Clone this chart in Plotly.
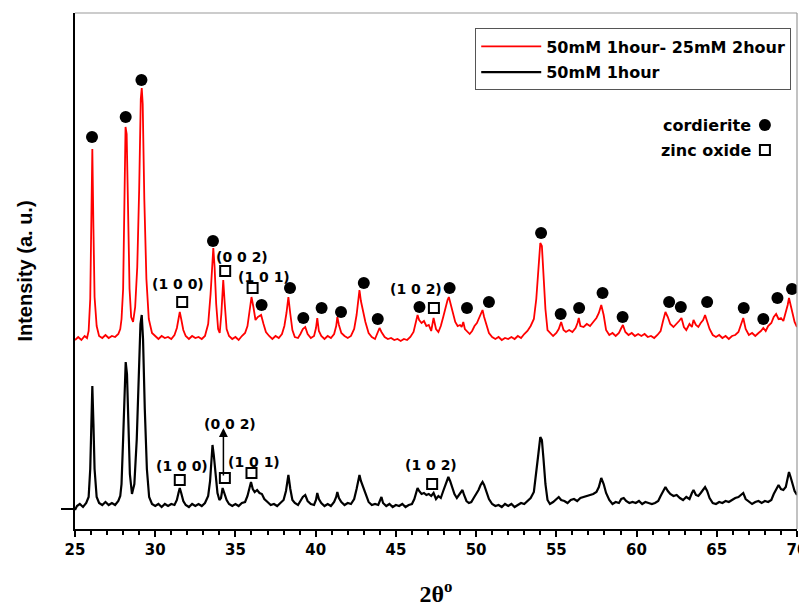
import plotly.graph_objects as go

# ---------------- data ----------------
# 2-theta (degrees) and intensity (a.u.) for the two XRD patterns
red_2theta = [25.0, 25.2, 25.4, 25.6, 25.75, 25.85, 25.95, 26.02, 26.08, 26.15, 26.22, 26.35, 26.5, 26.7,
              26.9, 27.1, 27.3, 27.5, 27.7, 27.82, 27.9, 28.0, 28.08, 28.15, 28.22, 28.3, 28.4, 28.5,
              28.62, 28.75, 28.88, 29.0, 29.1, 29.16, 29.22, 29.32, 29.45, 29.6, 29.8, 30.0, 30.2,
              30.4, 30.6, 30.8, 31.0, 31.2, 31.35, 31.45, 31.53, 31.62, 31.75, 31.9, 32.1, 32.3, 32.5,
              32.7, 32.9, 33.1, 33.3, 33.45, 33.55, 33.62, 33.7, 33.8, 33.92, 34.02, 34.12, 34.24, 34.33,
              34.45, 34.6, 34.8, 35.0, 35.2, 35.4, 35.6, 35.75, 35.88, 36.0, 36.12, 36.25, 36.4, 36.6,
              36.75, 36.9, 37.1, 37.3, 37.5, 37.7, 37.9, 38.05, 38.18, 38.3, 38.42, 38.55, 38.7, 38.9,
              39.05, 39.2, 39.35, 39.5, 39.7, 39.9, 40.02, 40.1, 40.2, 40.35, 40.55, 40.75, 40.95, 41.15,
              41.28, 41.35, 41.45, 41.6, 41.8, 42.0, 42.2, 42.4, 42.55, 42.65, 42.73, 42.82, 42.95,
              43.1, 43.3, 43.5, 43.7, 43.88, 43.98, 44.1, 44.3, 44.5, 44.7, 44.9, 45.1, 45.3, 45.5,
              45.7, 45.9, 46.1, 46.25, 46.35, 46.45, 46.6, 46.75, 46.9, 47.05, 47.2, 47.35, 47.5, 47.65,
              47.8, 47.95, 48.1, 48.22, 48.3, 48.4, 48.55, 48.7, 48.85, 49.0, 49.1, 49.2, 49.3, 49.45,
              49.6, 49.75, 49.9, 50.05, 50.2, 50.32, 50.4, 50.5, 50.65, 50.8, 51.0, 51.2, 51.4, 51.6,
              51.8, 52.0, 52.2, 52.4, 52.6, 52.8, 53.0, 53.2, 53.4, 53.6, 53.75, 53.88, 54.0, 54.1,
              54.2, 54.32, 54.45, 54.6, 54.8, 55.0, 55.15, 55.3, 55.45, 55.6, 55.8, 56.0, 56.2, 56.32,
              56.4, 56.5, 56.7, 56.9, 57.1, 57.3, 57.5, 57.65, 57.8, 57.95, 58.1, 58.3, 58.5, 58.7,
              58.9, 59.05, 59.15, 59.3, 59.5, 59.7, 59.9, 60.1, 60.3, 60.5, 60.7, 60.9, 61.1, 61.3,
              61.5, 61.65, 61.8, 61.95, 62.1, 62.3, 62.5, 62.65, 62.8, 62.95, 63.1, 63.3, 63.45, 63.55,
              63.7, 63.85, 64.0, 64.15, 64.27, 64.4, 64.55, 64.75, 64.95, 65.15, 65.35, 65.55, 65.75,
              65.95, 66.15, 66.35, 66.5, 66.65, 66.8, 67.0, 67.2, 67.4, 67.6, 67.75, 67.9, 68.05, 68.2,
              68.4, 68.55, 68.7, 68.85, 69.0, 69.15, 69.3, 69.42, 69.5, 69.6, 69.72, 69.85, 70.0]
red_intensity = [189, 192, 189, 193, 191, 198, 230, 300, 380, 300, 232, 203, 193, 191,
                 194, 191, 193, 192, 195, 200, 210, 240, 330, 402, 395, 320, 240, 212,
                 207, 222, 262, 340, 430, 441, 425, 330, 250, 210, 196, 193, 190,
                 193, 191, 192, 190, 194, 201, 210, 217, 210, 199, 193, 190, 193, 191,
                 192, 190, 193, 205, 235, 270, 281, 262, 225, 200, 196, 215, 249, 226,
                 200, 193, 190, 192, 189, 193, 196, 203, 218, 232, 222, 209, 212, 214,
                 205, 197, 193, 190, 193, 191, 195, 203, 216, 232, 215, 199, 192, 191,
                 195, 200, 202, 195, 191, 193, 201, 211, 198, 193, 190, 193, 191, 195,
                 203, 212, 204, 196, 193, 191, 193, 200, 214, 230, 239, 228, 217,
                 207, 196, 192, 190, 196, 201, 197, 192, 190, 191, 189, 190, 188, 190,
                 189, 192, 197, 206, 214, 209, 206, 208, 203, 204, 198, 211, 200, 197,
                 203, 212, 222, 229, 232, 226, 216, 207, 203, 204, 202, 207, 200, 197,
                 195, 198, 203, 206, 211, 216, 219, 212, 204, 196, 192, 190, 192, 189,
                 191, 190, 192, 190, 193, 191, 195, 198, 203, 210, 230, 265, 286, 283,
                 255, 220, 199, 196, 193, 196, 200, 207, 199, 197, 199, 197, 201, 206,
                 211, 203, 202, 205, 203, 207, 211, 216, 224, 214, 199, 194, 196, 193,
                 196, 201, 204, 197, 194, 196, 193, 195, 193, 195, 192, 193, 191, 194,
                 198, 208, 217, 212, 205, 202, 205, 208, 211, 202, 199, 205, 202, 209,
                 204, 202, 206, 209, 214, 208, 200, 194, 192, 194, 191, 193, 190,
                 193, 194, 197, 203, 211, 200, 194, 196, 193, 196, 198, 201, 198, 203,
                 206, 212, 215, 210, 211, 208, 216, 224, 231, 224, 214, 207, 202]

black_2theta = [25.0, 25.12, 25.3, 25.5, 25.7, 25.85, 25.95, 26.02, 26.08, 26.15, 26.22, 26.35, 26.5, 26.7,
                26.9, 27.1, 27.3, 27.5, 27.7, 27.82, 27.9, 28.0, 28.08, 28.16, 28.24, 28.32, 28.42, 28.55,
                28.7, 28.85, 28.98, 29.08, 29.16, 29.24, 29.35, 29.48, 29.62, 29.8, 30.0, 30.2, 30.4,
                30.6, 30.8, 31.0, 31.2, 31.35, 31.45, 31.53, 31.62, 31.75, 31.9, 32.1, 32.3, 32.5, 32.7,
                32.9, 33.1, 33.3, 33.42, 33.52, 33.57, 33.65, 33.75, 33.88, 34.0, 34.1, 34.2, 34.3, 34.45,
                34.6, 34.8, 35.0, 35.2, 35.4, 35.6, 35.75, 35.88, 35.97, 36.08, 36.2, 36.35, 36.5, 36.65,
                36.8, 37.0, 37.2, 37.4, 37.6, 37.8, 38.0, 38.15, 38.3, 38.42, 38.55, 38.7, 38.9, 39.05,
                39.2, 39.35, 39.5, 39.7, 39.9, 40.02, 40.1, 40.2, 40.35, 40.55, 40.75, 40.95, 41.15, 41.28,
                41.35, 41.45, 41.6, 41.8, 42.0, 42.2, 42.4, 42.55, 42.65, 42.73, 42.82, 42.95, 43.1, 43.3,
                43.5, 43.7, 43.9, 44.02, 44.1, 44.2, 44.4, 44.6, 44.8, 45.0, 45.2, 45.4, 45.6, 45.8,
                46.0, 46.15, 46.25, 46.35, 46.45, 46.6, 46.75, 46.9, 47.05, 47.2, 47.35, 47.5, 47.65, 47.8,
                47.95, 48.1, 48.2, 48.27, 48.38, 48.5, 48.65, 48.8, 48.95, 49.05, 49.15, 49.25, 49.4, 49.55,
                49.7, 49.85, 50.0, 50.15, 50.28, 50.4, 50.5, 50.65, 50.8, 51.0, 51.2, 51.4, 51.6, 51.8,
                52.0, 52.2, 52.4, 52.6, 52.8, 53.0, 53.2, 53.4, 53.6, 53.75, 53.88, 54.0, 54.1, 54.2,
                54.32, 54.45, 54.6, 54.8, 55.0, 55.15, 55.3, 55.5, 55.7, 55.9, 56.1, 56.3, 56.5, 56.7,
                56.9, 57.1, 57.3, 57.5, 57.65, 57.8, 57.95, 58.1, 58.3, 58.5, 58.7, 58.9, 59.05, 59.2,
                59.35, 59.55, 59.75, 59.95, 60.15, 60.35, 60.55, 60.75, 60.95, 61.15, 61.35, 61.5, 61.65,
                61.8, 61.95, 62.1, 62.3, 62.5, 62.7, 62.9, 63.1, 63.3, 63.45, 63.55, 63.7, 63.85, 64.0,
                64.15, 64.27, 64.4, 64.55, 64.75, 64.95, 65.15, 65.35, 65.55, 65.75, 65.95, 66.15, 66.35,
                66.5, 66.65, 66.8, 67.0, 67.2, 67.4, 67.6, 67.8, 68.0, 68.2, 68.4, 68.55, 68.7, 68.85,
                69.0, 69.15, 69.3, 69.42, 69.5, 69.6, 69.72, 69.85, 70.0]
black_intensity = [19, 23, 25, 22, 26, 32, 60, 110, 143, 105, 60, 32, 26, 24,
                   27, 24, 26, 24, 28, 33, 45, 90, 140, 167, 155, 100, 55, 35,
                   45, 90, 160, 205, 214, 190, 120, 60, 32, 25, 23, 25, 22,
                   25, 23, 25, 24, 29, 36, 41, 36, 28, 24, 22, 25, 23, 25,
                   23, 26, 33, 48, 72, 84, 74, 55, 36, 29, 31, 41, 36, 29,
                   25, 23, 25, 23, 26, 27, 33, 42, 47, 40, 37, 39, 36, 35,
                   30, 27, 24, 25, 23, 26, 29, 38, 54, 40, 29, 26, 24, 28,
                   32, 34, 28, 25, 24, 29, 36, 30, 26, 23, 25, 23, 27, 32,
                   37, 31, 27, 24, 26, 25, 30, 40, 48, 54, 48, 42, 35, 27,
                   24, 25, 24, 29, 32, 26, 23, 25, 22, 24, 23, 25, 22, 24,
                   25, 30, 37, 41, 38, 35, 36, 34, 35, 33, 36, 30, 33, 31,
                   38, 45, 50, 52, 48, 42, 35, 31, 34, 36, 39, 34, 28, 26,
                   27, 31, 35, 39, 44, 47, 44, 37, 30, 25, 23, 24, 22, 25,
                   23, 25, 22, 24, 26, 25, 28, 31, 37, 55, 75, 92, 89, 70,
                   45, 29, 25, 27, 30, 32, 29, 28, 26, 29, 30, 28, 31, 32,
                   33, 34, 35, 37, 42, 51, 45, 36, 29, 25, 27, 26, 30, 31,
                   28, 26, 27, 26, 28, 25, 27, 26, 25, 26, 28, 33, 38,
                   42, 38, 35, 33, 34, 31, 29, 32, 30, 36, 39, 34, 33, 36,
                   39, 42, 38, 31, 26, 25, 27, 26, 28, 27, 29, 31, 32,
                   34, 36, 30, 27, 25, 27, 28, 26, 28, 27, 29, 35, 40, 44,
                   40, 39, 42, 50, 57, 52, 46, 38, 34]

# phase markers: cordierite (filled circle) and zinc oxide (open square)
cord_2theta = [26.06, 28.16, 29.14, 33.6, 36.63, 38.4, 39.23, 40.37, 41.58, 43.0, 43.87, 46.47, 48.35,
               49.43, 50.8, 54.05, 55.27, 56.42, 57.88, 59.13, 62.03, 62.76, 64.4, 66.68, 67.9, 68.78, 69.69]
cord_height = [392, 412, 449, 288, 224, 241, 211, 221, 217, 246, 210, 222, 241,
               221, 227, 296, 215, 221, 236, 212, 227, 222, 227, 221, 210, 231, 240]

zno_red_2theta = [31.68, 34.36, 36.07, 47.37]
zno_red_height = [227, 258, 241, 221]
zno_black_2theta = [31.53, 34.34, 36.0, 47.26]
zno_black_height = [49, 51, 56, 45]

hkl_labels = ["(1 0 0)", "(0 0 2)", "(1 0 1)", "(1 0 2)"]
hkl_red_x = [31.44, 35.43, 36.78, 46.28]
hkl_red_y = [245, 272, 252, 240]
hkl_black_x = [31.65, 34.64, 36.16, 47.17]
hkl_black_y = [63, 105, 67, 64]

key_labels = ["cordierite", "zinc oxide"]
key_x = [68.0, 68.0]
key_y = [404, 379]

series_names = ["50mM 1hour- 25mM 2hour", "50mM 1hour"]

x_ticks = [25, 30, 35, 40, 45, 50, 55, 60, 65, 70]

# ---------------- figure ----------------
BOLD = dict(family="DejaVu Sans", weight="bold", color="black")

fig = go.Figure()
fig.add_trace(go.Scatter(x=red_2theta, y=red_intensity, mode="lines", name=series_names[0],
                         line=dict(color="#ff0000", width=1.8), legendgroup="a"))
fig.add_trace(go.Scatter(x=black_2theta, y=black_intensity, mode="lines", name=series_names[1],
                         line=dict(color="black", width=2.2), legendgroup="b"))

circle_marker = dict(symbol="circle", size=12, color="black")
square_marker = dict(symbol="square-open", size=10, color="black", line=dict(width=2, color="black"))

fig.add_trace(go.Scatter(x=cord_2theta, y=cord_height, mode="markers", marker=circle_marker,
                         showlegend=False, hoverinfo="skip"))
fig.add_trace(go.Scatter(x=zno_red_2theta, y=zno_red_height, mode="markers", marker=square_marker,
                         showlegend=False, hoverinfo="skip"))
fig.add_trace(go.Scatter(x=zno_black_2theta, y=zno_black_height, mode="markers", marker=square_marker,
                         showlegend=False, hoverinfo="skip"))
# phase key
fig.add_trace(go.Scatter(x=key_x[:1], y=key_y[:1], mode="markers", marker=circle_marker,
                         showlegend=False, hoverinfo="skip"))
fig.add_trace(go.Scatter(x=key_x[1:], y=key_y[1:], mode="markers", marker=square_marker,
                         showlegend=False, hoverinfo="skip"))
for lab, kx, ky in zip(key_labels, key_x, key_y):
    fig.add_annotation(x=kx, y=ky, text=lab, showarrow=False, xanchor="right", xshift=-12,
                       font=dict(BOLD, size=16))

for lab, hx, hy in zip(hkl_labels, hkl_red_x, hkl_red_y):
    fig.add_annotation(x=hx, y=hy, text=lab, showarrow=False, font=dict(BOLD, size=14))
for lab, hx, hy in zip(hkl_labels, hkl_black_x, hkl_black_y):
    fig.add_annotation(x=hx, y=hy, text=lab, showarrow=False, font=dict(BOLD, size=14))

# arrow pointing to the (0 0 2) label of the lower pattern
fig.add_annotation(x=zno_black_2theta[1] - 0.09, y=hkl_black_y[1] - 4, ax=zno_black_2theta[1] - 0.09,
                   ay=zno_black_height[1] + 1, axref="x", ayref="y", xref="x", yref="y", text="",
                   showarrow=True, arrowhead=2, arrowsize=1.2, arrowwidth=1.5, arrowcolor="black")

# light frame on top and right
fig.add_shape(type="line", xref="paper", yref="paper", x0=0, x1=1, y0=1, y1=1,
              line=dict(color="#999999", width=1.2))
fig.add_shape(type="line", xref="paper", yref="paper", x0=1, x1=1, y0=0, y1=1,
              line=dict(color="#999999", width=1.2))

# the page body adds an 8 px offset, so the figure is 8 px smaller and margins shifted
fig.update_layout(
    width=799, height=603,
    margin=dict(l=67, r=10, t=5, b=82),
    paper_bgcolor="white", plot_bgcolor="white",
    showlegend=True,
    legend=dict(x=0.992, xanchor="right", y=0.97, yanchor="top", itemwidth=60,
                bordercolor="#555555", borderwidth=1, bgcolor="white",
                font=dict(BOLD, size=16), traceorder="grouped", tracegroupgap=2),
    xaxis=dict(range=[25, 70], tickvals=x_ticks, ticks="outside", ticklen=6, tickwidth=2,
               tickcolor="black", showline=True, linecolor="black", linewidth=2,
               showgrid=False, zeroline=False, tickfont=dict(BOLD, size=15),
               automargin=False, ticklabeloverflow="allow",
               minor=dict(dtick=1, ticks="outside", ticklen=4, tickwidth=1.5, tickcolor="black",
                          showgrid=False),
               title=dict(text="2θ<sup>o</sup>", standoff=27,
                          font=dict(family="Liberation Serif", weight="bold", size=24, color="black"))),
    yaxis=dict(range=[0, 516], tickvals=[20], showticklabels=False, ticks="outside", ticklen=12,
               tickwidth=1.5, tickcolor="black", showline=True, linecolor="black", linewidth=2,
               showgrid=False, zeroline=False, automargin=False,
               title=dict(text="Intensity (a. u.)", standoff=23,
                          font=dict(family="Liberation Sans", weight="bold", size=20, color="black"))),
)

fig.write_html("out.html")
